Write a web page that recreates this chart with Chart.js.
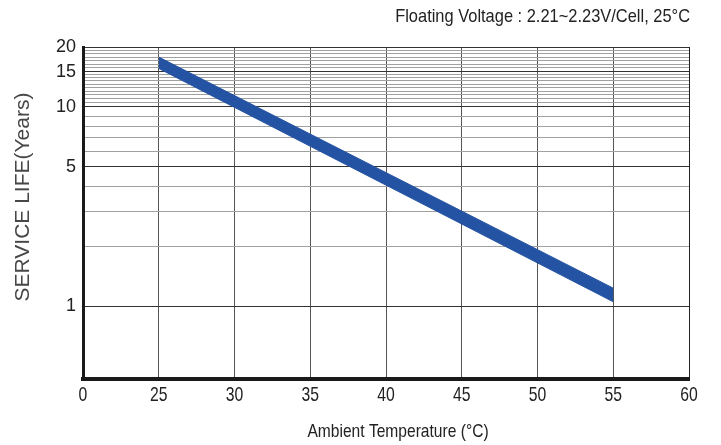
<!DOCTYPE html>
<html>
<head>
<meta charset="utf-8">
<title>Service life vs temperature</title>
<script src="https://cdn.jsdelivr.net/npm/chart.js@4.4.1/dist/chart.umd.min.js"></script>
<style>
  html, body { margin: 0; padding: 0; background: #fff; }
  #wrap { width: 721px; height: 445px; }
</style>
</head>
<body>
<div id="wrap"><canvas id="lifeChart" width="721" height="445"></canvas></div>
<script>
// x axis is broken after 0, so temperatures are categories
const tempLabels = ['0', '25', '30', '35', '40', '45', '50', '55', '60'];

// band ends (years) at 25°C and 55°C
const bandTemps = ['25', '55'];
const lifeUpper = [17.8, 1.23];
const lifeLower = [15.6, 1.05];
const lifeMid = [16.7, 1.14];

// horizontal grid lines of the log axis
const lifeGrid = [1, 2, 3, 4, 5, 6, 7, 8, 9, 10,
    10.5, 11, 11.5, 12, 12.5, 13, 13.5, 14, 14.5, 15,
    15.7, 16.4, 17.1, 17.8, 18.5, 19.2, 20];
const lifeTickLabels = [1, 5, 10, 15, 20];

const noteText = 'Floating Voltage : 2.21~2.23V/Cell, 25°C';
const xTitle = 'Ambient Temperature (°C)';
const yTitle = 'SERVICE LIFE(Years)';

const sansFont = "'Liberation Sans', Arial, sans-serif";

const toPoints = (xs, ys) => xs.map((x, i) => ({ x: x, y: ys[i] }));

// condensed text: Liberation Sans squeezed horizontally
function narrowText(ctx, text, x, y, size, squeeze, align) {
    ctx.save();
    ctx.translate(x, y);
    ctx.scale(squeeze, 1);
    ctx.font = size + 'px ' + sansFont;
    ctx.textAlign = align;
    ctx.textBaseline = 'middle';
    ctx.fillText(text, 0, 0);
    ctx.restore();
}

const chartText = {
    id: 'chartText',
    afterDraw(chart) {
        const ctx = chart.ctx;
        const xScale = chart.scales.x;
        ctx.save();
        ctx.fillStyle = '#222';
        narrowText(ctx, noteText, 690, 17, 19, 0.865, 'right');
        narrowText(ctx, xTitle, 398, 432, 19, 0.82, 'center');
        tempLabels.forEach((t, i) => {
            narrowText(ctx, t, xScale.getPixelForValue(i), 395, 21, 0.75, 'center');
        });
        ctx.translate(23, 197);
        ctx.rotate(-Math.PI / 2);
        ctx.font = '21px ' + sansFont;
        ctx.fillStyle = '#474747';
        ctx.textAlign = 'center';
        ctx.textBaseline = 'middle';
        ctx.fillText(yTitle, 0, 0);
        ctx.restore();
    }
};

const blue = '#2553a3';

new Chart(document.getElementById('lifeChart'), {
    type: 'line',
    data: {
        labels: tempLabels,
        datasets: [
            {
                data: toPoints(bandTemps, lifeUpper),
                borderColor: blue,
                backgroundColor: blue,
                borderWidth: 1,
                pointRadius: 0,
                fill: '+1'
            },
            {
                data: toPoints(bandTemps, lifeLower),
                borderColor: blue,
                borderWidth: 1,
                pointRadius: 0,
                fill: false
            },
            {
                data: toPoints(bandTemps, lifeMid),
                borderColor: 'rgba(190, 205, 235, 0.45)',
                borderWidth: 1,
                pointRadius: 0,
                fill: false
            }
        ]
    },
    options: {
        responsive: false,
        animation: false,
        devicePixelRatio: 1,
        layout: { padding: { top: 47, right: 32, left: 0, bottom: 0 } },
        plugins: {
            legend: { display: false },
            tooltip: { enabled: false }
        },
        scales: {
            x: {
                type: 'category',
                offset: false,
                afterFit: (scale) => { scale.height = 66; },
                grid: {
                    drawTicks: false,
                    color: (c) => c.index === tempLabels.length - 1 ? '#222' : '#555',
                    lineWidth: 1
                },
                border: { display: true, color: '#1a1a1a', width: 4 },
                ticks: { display: false, autoSkip: false }
            },
            y: {
                type: 'logarithmic',
                min: 0.43,
                max: 20,
                afterFit: (scale) => { scale.width = 83; },
                afterBuildTicks: (scale) => {
                    scale.ticks = lifeGrid.map(v => ({ value: v }));
                },
                grid: {
                    drawTicks: false,
                    color: (c) => lifeTickLabels.includes(c.tick.value) ? '#333' : '#a0a0a0',
                    lineWidth: 1
                },
                border: { display: true, color: '#1a1a1a', width: 3 },
                ticks: {
                    autoSkip: false,
                    padding: 7,
                    color: '#222',
                    font: { family: sansFont, size: 18 },
                    callback: (v) => lifeTickLabels.includes(v) ? String(v) : ''
                }
            }
        }
    },
    plugins: [chartText]
});
</script>
</body>
</html>
